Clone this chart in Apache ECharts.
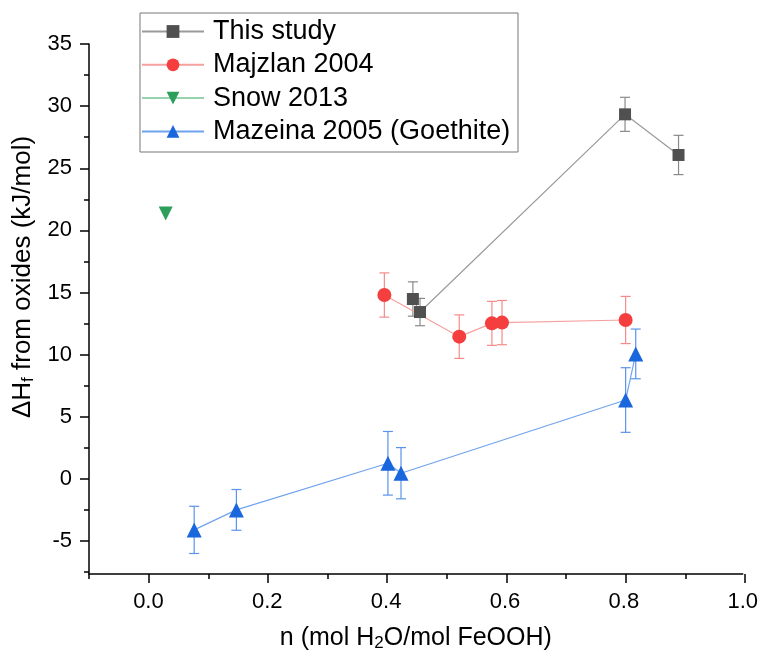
<!DOCTYPE html>
<html><head><meta charset="utf-8">
<script src="https://cdn.jsdelivr.net/npm/echarts@6/dist/echarts.min.js"></script>
<style>html,body{margin:0;padding:0;background:#fff}#c{width:761px;height:658px}</style>
</head><body><div id="c"></div>
<script>
// ---- data ----
const studyN   = [0.445, 0.457, 0.802, 0.892];
const studyH   = [14.48, 13.43, 29.34, 26.07];
const studyErr = [1.38, 1.1, 1.37, 1.58];

const majN   = [0.397, 0.523, 0.578, 0.595, 0.803];
const majH   = [14.80, 11.45, 12.52, 12.58, 12.79];
const majErr = [1.78, 1.75, 1.77, 1.78, 1.9];

const snowN = [0.029];
const snowH = [21.37];

const mazN   = [0.077, 0.148, 0.403, 0.425, 0.803, 0.820];
const mazH   = [-4.1, -2.49, 1.26, 0.46, 6.35, 10.06];
const mazErr = [1.9, 1.64, 2.56, 2.06, 2.6, 2.0];

const xLabels = [0.0, 0.2, 0.4, 0.6, 0.8, 1.0];
const xMinor  = [-0.1, 0.1, 0.3, 0.5, 0.7, 0.9];
const yLabels = [-5, 0, 5, 10, 15, 20, 25, 30, 35];
const yMinor  = [-7.5, -2.5, 2.5, 7.5, 12.5, 17.5, 22.5, 27.5, 32.5];

const seriesNames = ['This study', 'Majzlan 2004', 'Snow 2013', 'Mazeina 2005 (Goethite)'];

// ---- build ----
const F = "'Liberation Sans', Arial, sans-serif";
const XMIN = -0.1, XMAX = 1.0, YMIN = -7.65, YMAX = 35;
const zip2 = (a, b) => a.map((v, i) => [v, b[i]]);
const zip3 = (a, b, c) => a.map((v, i) => [v, b[i], c[i]]);

function errSeries(data, color) {
  return {
    type: 'custom', xAxisIndex: 0, yAxisIndex: 0, z: 1, silent: true,
    data: data,
    renderItem: function (params, api) {
      const x = api.value(0), y = api.value(1), e = api.value(2);
      const t = api.coord([x, y + e]);
      const b = api.coord([x, y - e]);
      const w = 5;
      const st = { stroke: color, lineWidth: 1.2, fill: null };
      return { type: 'group', children: [
        { type: 'line', shape: { x1: t[0], y1: t[1], x2: b[0], y2: b[1] }, style: st },
        { type: 'line', shape: { x1: t[0] - w, y1: t[1], x2: t[0] + w, y2: t[1] }, style: st },
        { type: 'line', shape: { x1: b[0] - w, y1: b[1], x2: b[0] + w, y2: b[1] }, style: st }
      ]};
    }
  };
}

const gridPos = { left: 89, right: 16, top: 44, bottom: 84 };
const tickStyle = { color: '#000', width: 1.5 };

function tickX(grid, vals, len) {
  return { type: 'value', gridIndex: grid, min: XMIN, max: XMAX,
    axisLine: { show: false, onZero: false },
    axisTick: { show: true, inside: false, length: len, lineStyle: tickStyle, customValues: vals },
    axisLabel: { show: false }, splitLine: { show: false } };
}
function tickY(grid, vals, len) {
  return { type: 'value', gridIndex: grid, min: YMIN, max: YMAX,
    axisLine: { show: false, onZero: false },
    axisTick: { show: true, inside: false, length: len, lineStyle: tickStyle, customValues: vals },
    axisLabel: { show: false }, splitLine: { show: false } };
}

const option = {
  animation: false,
  backgroundColor: '#fff',
  textStyle: { fontFamily: F },
  grid: [Object.assign({}, gridPos), Object.assign({}, gridPos), Object.assign({}, gridPos)],
  graphic: [{
    type: 'rect', left: 139.5, top: 12.5, z: 100,
    shape: { width: 378, height: 139 },
    style: { fill: 'transparent', stroke: '#777', lineWidth: 1 }
  }],
  legend: {
    data: seriesNames,
    orient: 'vertical', left: 141, top: 17, padding: 0,
    itemWidth: 62, itemHeight: 16, itemGap: 4.3,
    textStyle: { fontFamily: F, fontSize: 27, color: '#000', lineHeight: 29, padding: [0, 0, 0, 4] }
  },
  xAxis: [{
    type: 'value', gridIndex: 0, min: XMIN, max: XMAX,
    name: 'n (mol H{sub|2}O/mol FeOOH)', nameLocation: 'middle', nameGap: 51,
    nameTextStyle: { fontFamily: F, fontSize: 25, color: '#000',
      rich: { sub: { fontSize: 17, verticalAlign: 'bottom', padding: [10, 0, 0, 0], fontFamily: F, color: '#000' } } },
    axisLine: { show: true, onZero: false, lineStyle: { color: '#000', width: 1.5 } },
    axisTick: { show: false },
    axisLabel: { fontFamily: F, fontSize: 22, color: '#000', margin: 17, customValues: xLabels,
      formatter: v => v.toFixed(1) },
    splitLine: { show: false }
  }, tickX(1, xLabels, 9), tickX(2, xMinor, 5)],
  yAxis: [{
    type: 'value', gridIndex: 0, min: YMIN, max: YMAX,
    name: '{a|ΔH}{sub|f}{a| from oxides (kJ/mol)}', nameLocation: 'middle', nameGap: 51,
    nameTextStyle: { fontFamily: F, fontSize: 26, color: '#000', padding: [0, 0, 0, 64],
      rich: { a: { fontSize: 26, fontFamily: F, color: '#000' },
              sub: { fontSize: 17, verticalAlign: 'bottom', padding: [11, 0, 0, 0], fontFamily: F, color: '#000' } } },
    axisLine: { show: true, onZero: false, lineStyle: { color: '#000', width: 1.5 } },
    axisTick: { show: false },
    axisLabel: { fontFamily: F, fontSize: 22, color: '#000', margin: 17, customValues: yLabels },
    splitLine: { show: false }
  }, tickY(1, yLabels, 9), tickY(2, yMinor, 5)],
  series: [
    errSeries(zip3(studyN, studyH, studyErr), '#8a8a8a'),
    errSeries(zip3(majN, majH, majErr), '#f58a8a'),
    errSeries(zip3(mazN, mazH, mazErr), '#5b93ea'),
    {
      name: seriesNames[0], type: 'line', z: 3, data: zip2(studyN, studyH),
      symbol: 'rect', symbolSize: 12,
      itemStyle: { color: '#505050' }, lineStyle: { color: '#9a9a9a', width: 1.2 }
    },
    {
      name: seriesNames[1], type: 'line', z: 3, data: zip2(majN, majH),
      symbol: 'circle', symbolSize: 14,
      itemStyle: { color: '#f53e3e' }, lineStyle: { color: '#f7a0a0', width: 1.2 }
    },
    {
      name: seriesNames[2], type: 'line', z: 3, data: zip2(snowN, snowH),
      symbol: 'triangle', symbolRotate: 180, symbolSize: 14,
      itemStyle: { color: '#2e9e5b' }, lineStyle: { color: '#94d3ad', width: 1.2 }
    },
    {
      name: seriesNames[3], type: 'line', z: 3, data: zip2(mazN, mazH),
      symbol: 'triangle', symbolSize: 15,
      itemStyle: { color: '#1a66dd' }, lineStyle: { color: '#6fa3ee', width: 1.2 }
    }
  ]
};
const chart = echarts.init(document.getElementById('c'), null, { renderer: 'canvas' });
chart.setOption(option);
</script></body></html>
